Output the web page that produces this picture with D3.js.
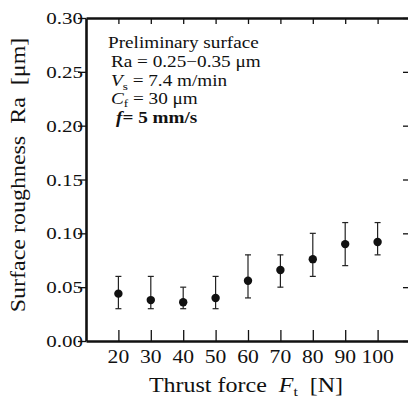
<!DOCTYPE html>
<html>
<head>
<meta charset="utf-8">
<script src="https://cdn.jsdelivr.net/npm/d3@7"></script>
<style>
  body { margin: 0; background: #fff; }
  svg { display: block; font-family: "Liberation Serif", "Times New Roman", serif; }
  .axis path, .axis line { stroke: #111; }
</style>
</head>
<body>
<div id="chart"></div>
<script>
// thrust force [N]
var force = [20, 30, 40, 50, 60, 70, 80, 90, 100];
// mean surface roughness Ra [um] and error bar limits
var ra = [0.044, 0.038, 0.036, 0.040, 0.056, 0.066, 0.076, 0.090, 0.092];
var raHigh = [0.060, 0.060, 0.050, 0.060, 0.080, 0.080, 0.100, 0.110, 0.110];
var raLow = [0.030, 0.030, 0.030, 0.030, 0.040, 0.050, 0.060, 0.070, 0.080];
var yTicks = [0, 0.05, 0.10, 0.15, 0.20, 0.25, 0.30];

var width = 408, height = 403;
var margin = {top: 18, left: 86, bottom: 341, right: 410};
var stretch = 1.2;   // the original figure's text is wider than Liberation Serif

var svg = d3.select('#chart')
  .append('svg')
    .attr('width', width)
    .attr('height', height);

var x = d3.scaleLinear().domain([10, 110]).range([margin.left, margin.right]);
var y = d3.scaleLinear().domain([0, 0.30]).range([margin.bottom, margin.top]);

// text widened horizontally
function wideText(parent, tx, ty, size, anchor, rot) {
  return parent.append('text')
    .attr('transform', 'translate(' + tx + ',' + ty + ')' + (rot ? ' rotate(' + rot + ')' : '') + ' scale(' + stretch + ',1)')
    .attr('font-size', size)
    .attr('text-anchor', anchor || 'start')
    .attr('fill', '#111');
}

// bottom axis, ticks pointing inward
svg.append('g')
    .attr('class', 'axis')
    .attr('transform', 'translate(0,' + margin.bottom + ')')
    .call(d3.axisBottom(x).tickValues(force).tickSizeInner(-11).tickSizeOuter(0).tickFormat(''))
    .call(function(g) { g.select('.domain').attr('stroke-width', 2.6); g.selectAll('.tick line').attr('stroke-width', 1.3); });

// top axis
svg.append('g')
    .attr('class', 'axis')
    .attr('transform', 'translate(0,' + margin.top + ')')
    .call(d3.axisTop(x).tickValues(force).tickSizeInner(-6).tickSizeOuter(0).tickFormat(''))
    .call(function(g) { g.select('.domain').attr('stroke-width', 2.4); g.selectAll('.tick line').attr('stroke-width', 1.3); });

// left axis, ticks outward
svg.append('g')
    .attr('class', 'axis')
    .attr('transform', 'translate(' + margin.left + ',0)')
    .call(d3.axisLeft(y).tickValues(yTicks).tickSizeInner(8).tickSizeOuter(0).tickFormat(''))
    .call(function(g) { g.select('.domain').attr('stroke-width', 2.6); g.selectAll('.tick line').attr('stroke-width', 1.3); });

// right axis, ticks inward
svg.append('g')
    .attr('class', 'axis')
    .attr('transform', 'translate(' + margin.right + ',0)')
    .call(d3.axisRight(y).tickValues(yTicks).tickSizeInner(-7).tickSizeOuter(0).tickFormat(''))
    .call(function(g) { g.select('.domain').attr('stroke-width', 2.4); g.selectAll('.tick line').attr('stroke-width', 1.3); });

// y tick labels
yTicks.forEach(function(d) {
  wideText(svg, 83, y(d) + 6, 17.5, 'end').text(d3.format('.2f')(d));
});

// x tick labels
force.forEach(function(d) {
  wideText(svg, x(d), 363, 18, 'middle').text(d);
});

// error bars
var bars = svg.append('g').selectAll('g')
  .data(force)
  .enter().append('g')
    .attr('stroke', '#222')
    .attr('stroke-width', 1.2);

bars.append('line')
    .attr('x1', function(d) { return x(d); })
    .attr('x2', function(d) { return x(d); })
    .attr('y1', function(d, i) { return y(raHigh[i]); })
    .attr('y2', function(d, i) { return y(raLow[i]); });

bars.append('line')
    .attr('x1', function(d) { return x(d) - 3; })
    .attr('x2', function(d) { return x(d) + 3; })
    .attr('y1', function(d, i) { return y(raHigh[i]); })
    .attr('y2', function(d, i) { return y(raHigh[i]); });

bars.append('line')
    .attr('x1', function(d) { return x(d) - 3; })
    .attr('x2', function(d) { return x(d) + 3; })
    .attr('y1', function(d, i) { return y(raLow[i]); })
    .attr('y2', function(d, i) { return y(raLow[i]); });

// mean points
svg.append('g').selectAll('circle')
  .data(force)
  .enter().append('circle')
    .attr('cx', function(d) { return x(d); })
    .attr('cy', function(d, i) { return y(ra[i]); })
    .attr('r', 4.2)
    .attr('fill', '#111');

// annotation
wideText(svg, 108, 48, 16, 'start').text('Preliminary surface');
wideText(svg, 111, 67, 16, 'start').text('Ra = 0.25\u22120.35 \u03bcm');

var l3 = wideText(svg, 111, 86, 16, 'start');
l3.append('tspan').attr('font-style', 'italic').text('V');
l3.append('tspan').attr('font-size', 11).attr('dy', 4).text('s');
l3.append('tspan').attr('dy', -4).text(' = 7.4 m/min');

var l4 = wideText(svg, 111, 104, 16, 'start');
l4.append('tspan').attr('font-style', 'italic').text('C');
l4.append('tspan').attr('font-size', 11).attr('dy', 3).text('f');
l4.append('tspan').attr('dy', -3).text(' = 30 \u03bcm');

var l5 = wideText(svg, 116, 123, 16, 'start').attr('font-weight', 'bold');
l5.append('tspan').attr('font-style', 'italic').text('f');
l5.append('tspan').text('= 5 mm/s');

// axis titles
var xt = wideText(svg, 246, 392, 20, 'middle');
xt.append('tspan').text('Thrust force\u00a0\u00a0');
xt.append('tspan').attr('font-style', 'italic').text('F');
xt.append('tspan').attr('font-size', 13).attr('dy', 4).text('t');
xt.append('tspan').attr('dy', -4).text('\u00a0\u00a0[N]');

wideText(svg, 25, 175, 20, 'middle', -90)
    .text('Surface roughness\u00a0\u00a0Ra\u00a0\u00a0[\u03bcm]');
</script>
</body>
</html>
